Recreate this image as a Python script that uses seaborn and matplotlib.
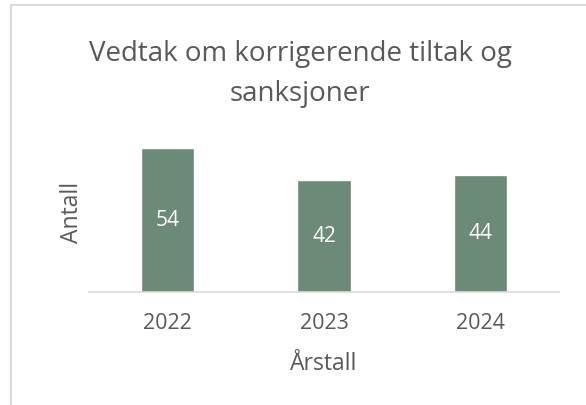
import matplotlib
matplotlib.use("Agg")
import matplotlib.pyplot as plt
import seaborn as sns
import pandas as pd
from matplotlib.lines import Line2D

years = ["2022", "2023", "2024"]
counts = [54, 42, 44]

bar_color = "#6B8A78"
text_color = "#595959"

sns.set_theme(style="white")
plt.rcParams["font.family"] = ["Open Sans", "DejaVu Sans"]

df = pd.DataFrame({"Årstall": years, "Antall": counts})

fig = plt.figure(figsize=(5.86, 4.05), dpi=100)
ax = fig.add_axes([0.152, 0.278, 0.802, 0.396])

sns.barplot(data=df, x="Årstall", y="Antall", color=bar_color, width=0.34,
            saturation=1, ax=ax)

for cont in ax.containers:
    ax.bar_label(cont, label_type="center", color="white", fontsize=15)

ax.set_ylim(0, 60)
ax.set_yticks([])
ax.set_xlim(-0.5, 2.5)
for s in ["top", "right", "left"]:
    ax.spines[s].set_visible(False)
ax.spines["bottom"].set_color("#D9D9D9")
ax.spines["bottom"].set_linewidth(1.2)
ax.tick_params(axis="x", length=0, labelsize=15.5, labelcolor=text_color, pad=15)
ax.set_xlabel("Årstall", fontsize=16.5, color=text_color, labelpad=13)
ax.set_ylabel("Antall", fontsize=16.5, color=text_color, labelpad=4)

fig.text(0.512, 0.817, "Vedtak om korrigerende tiltak og\nsanksjoner",
         ha="center", va="center", fontsize=20, color=text_color,
         linespacing=1.6)

# outer chart border (left and top edges visible)
fig.add_artist(Line2D([11 / 586, 11 / 586], [0, 1 - 5 / 405],
                      transform=fig.transFigure, color="#D9D9D9", lw=1.5))
fig.add_artist(Line2D([11 / 586, 1], [1 - 5 / 405, 1 - 5 / 405],
                      transform=fig.transFigure, color="#D9D9D9", lw=1.5))

fig.savefig("out.png", dpi=100)
